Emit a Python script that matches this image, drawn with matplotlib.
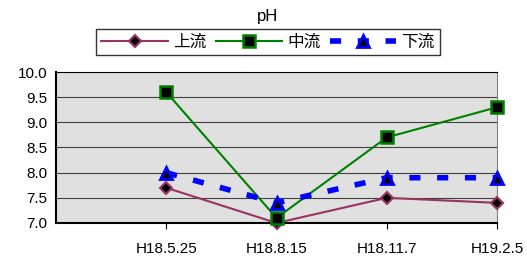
import matplotlib
matplotlib.use('Agg')
import matplotlib.pyplot as plt

plt.rcParams['font.family'] = ['Liberation Sans', 'Noto Sans CJK JP', 'DejaVu Sans']

dates = ['H18.5.25', 'H18.8.15', 'H18.11.7', 'H19.2.5']
upstream = [7.7, 7.0, 7.5, 7.4]
midstream = [9.6, 7.1, 8.7, 9.3]
downstream = [8.0, 7.4, 7.9, 7.9]

x = list(range(1, len(dates) + 1))

fig = plt.figure(figsize=(5.27, 2.61), dpi=100)
ax = fig.add_axes([56 / 527, 1 - 223 / 261, (497 - 56) / 527, (223 - 72) / 261])
ax.set_facecolor('#e0e0e0')

l1, = ax.plot(x, upstream, '-', color='#993366', lw=1.5, marker='D', ms=6,
              mfc='black', mec='#993366', mew=1.5, label='上流', clip_on=False, zorder=3)
l2, = ax.plot(x, midstream, '-', color='#008000', lw=1.5, marker='s', ms=8,
              mfc='black', mec='#008000', mew=1.8, label='中流', clip_on=False, zorder=3)
l3, = ax.plot(x, downstream, '--', color='#0000ff', lw=4, dashes=(2, 3), marker='^', ms=8,
              mfc='black', mec='#0000ff', mew=2, label='下流', clip_on=False, zorder=3)

ax.set_xlim(0, 4)
ax.set_ylim(7.0, 10.0)
ax.set_yticks([7.0, 7.5, 8.0, 8.5, 9.0, 9.5, 10.0])
ax.set_yticklabels(['%.1f' % v for v in ax.get_yticks()], fontsize=11)
ax.set_xticks(x)
ax.set_xticklabels(dates, fontsize=11)
ax.tick_params(axis='y', length=0, pad=6)
ax.tick_params(axis='x', length=4, direction='out', pad=10)
ax.yaxis.grid(True, color='#404040', lw=0.8)
ax.set_axisbelow(True)
for s in ['left', 'bottom']:
    ax.spines[s].set_linewidth(1.5)
ax.spines['top'].set_linewidth(0.8)
ax.spines['right'].set_color('#808080')

fig.text(268 / 527, 1 - 16 / 261, 'pH', ha='center', va='center', fontsize=12)
leg = fig.legend(handles=[l1, l2, l3], loc='center', bbox_to_anchor=(268 / 527, 1 - 42 / 261),
                 ncol=3, frameon=True, fancybox=False, edgecolor='black', fontsize=12,
                 handlelength=4.0, columnspacing=0.55, handletextpad=0.3, borderpad=0.35,
                 borderaxespad=0)
leg.get_frame().set_linewidth(1.0)

fig.savefig('out.png', dpi=100)
